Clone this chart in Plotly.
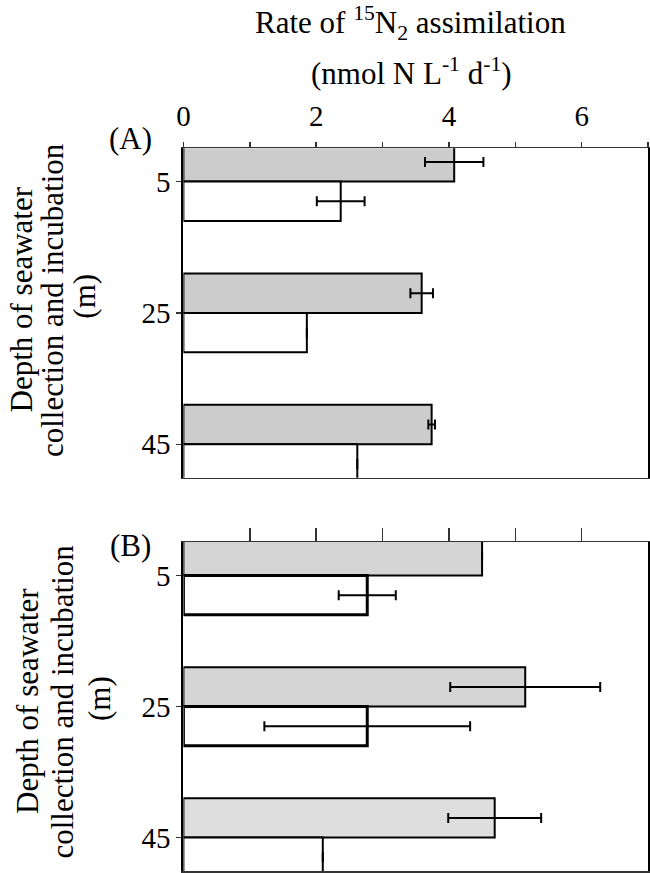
import plotly.graph_objects as go

# ---- data ----
depths = [5, 25, 45]
a_treat = [4.08, 3.59, 3.74]      # grey bars, panel A
a_treat_err = [0.44, 0.17, 0.05]
a_ctrl = [2.37, 1.86, 2.62]       # white bars, panel A
a_ctrl_err = [0.36, 0, 0]
b_treat = [4.50, 5.15, 4.69]      # grey bars, panel B
b_treat_err = [0, 1.13, 0.70]
b_ctrl = [2.77, 2.77, 2.10]       # white bars, panel B
b_ctrl_err = [0.43, 1.55, 0]
x_ticks = [0, 1, 2, 3, 4, 5, 6, 7]
x_ticktext = ["0", "", "2", "", "4", "", "6", ""]

W, H = 650, 873
FONT = "Liberation Serif, Times New Roman, serif"


def px(x):
    return x / W


def py(y):
    return 1 - y / H


fig = go.Figure()


def add_bars(xaxis, yaxis, vals, errs, color, offset, lw):
    fig.add_trace(go.Bar(
        x=vals, y=depths, orientation="h", width=6, offset=offset,
        marker=dict(color=color, line=dict(color="black", width=lw)),
        error_x=dict(type="data", array=errs, visible=True, color="black",
                     thickness=2, width=5),
        xaxis=xaxis, yaxis=yaxis, showlegend=False, hoverinfo="skip",
    ))


add_bars("x", "y", a_treat, a_treat_err, "#cccccc", -6, 2)
add_bars("x", "y", a_ctrl, a_ctrl_err, "white", 0, 2)
add_bars("x2", "y2", b_treat, b_treat_err, ["#d5d5d5", "#d5d5d5", "#dedede"], -6, 2)
add_bars("x2", "y2", b_ctrl, b_ctrl_err, "white", 0, [3, 3, 2])

tickfont = dict(family=FONT, size=29, color="black")

xcommon = dict(range=[0, 7], domain=[px(178.6), px(649)], side="top",
               showgrid=False, zeroline=False, showline=True,
               linecolor="#333", linewidth=1.5, mirror=True,
               ticks="outside", tickcolor="#333", tickwidth=1.5,
               tickfont=tickfont, fixedrange=True)
ycommon = dict(range=[50.1, -0.1], tickvals=depths, ticktext=[str(d) for d in depths],
               showgrid=False, zeroline=False, showline=True,
               linecolor="black", linewidth=2, mirror=True,
               ticks="outside", ticklen=5, tickcolor="#333", tickwidth=1.5,
               tickfont=tickfont, fixedrange=True)

fig.update_layout(
    width=W, height=H,
    margin=dict(l=0, r=0, t=0, b=0),
    paper_bgcolor="white", plot_bgcolor="white",
    barmode="overlay",
    xaxis=dict(xcommon, anchor="y", tickvals=x_ticks, ticktext=x_ticktext, ticklen=5,
               ticklabelstandoff=4),
    yaxis=dict(ycommon, anchor="x", domain=[py(478.3), py(148.3)]),
    xaxis2=dict(xcommon, anchor="y2", tickvals=x_ticks[1:7], showticklabels=False, ticklen=13),
    yaxis2=dict(ycommon, anchor="x2", domain=[py(872), py(542.7)]),
)

title_font = dict(family=FONT, size=31, color="black")
ann = []
ann.append(dict(text="Rate of <sup>15</sup>N<sub>2</sub> assimilation", x=px(409), y=py(23)))
ann.append(dict(text="(nmol N L<sup>-1</sup> d<sup>-1</sup>)", x=px(410), y=py(72)))
ann.append(dict(text="(A)", x=px(125), y=py(139)))
ann.append(dict(text="(B)", x=px(125), y=py(546)))
for (x1, x2, x3, yc) in [(15, 46, 79, 300), (20, 56, 93, 702)]:
    ann.append(dict(text="Depth of seawater", x=px(x1), y=py(yc), textangle=-90))
    ann.append(dict(text="collection and incubation", x=px(x2), y=py(yc), textangle=-90))
    ann.append(dict(text="(m)", x=px(x3), y=py(yc - 3), textangle=-90))

for a in ann:
    a.update(xref="paper", yref="paper", xanchor="center", yanchor="middle",
             showarrow=False, font=title_font)
fig.update_layout(annotations=ann)

fig.write_html("out.html",
               config={"displayModeBar": False, "staticPlot": True},
               post_script="document.body.style.margin='0';document.body.style.overflow='hidden';")
